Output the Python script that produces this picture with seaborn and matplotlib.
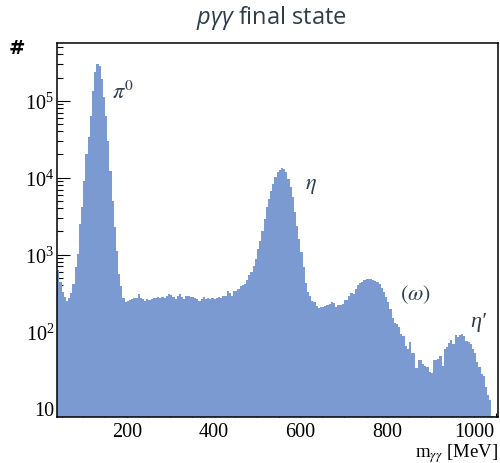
import numpy as np
import pandas as pd
import matplotlib
matplotlib.use("Agg")
import matplotlib.pyplot as plt
from matplotlib.ticker import FixedLocator, MultipleLocator, LogLocator, NullFormatter
import seaborn as sns

# Two-photon invariant mass spectrum, 5 MeV bins starting at 40 MeV
mass_start = 40
bin_width = 5
counts = [
    620, 440, 330, 280, 250, 275, 320, 410, 690, 1020,
    2500, 4150, 9000, 20300, 33700, 63000, 134000, 236000, 300000, 285000,
    191000, 112000, 63000, 30200, 12300, 5000, 2280, 1120, 560, 390,
    270, 239, 251, 258, 261, 270, 275, 310, 270, 261,
    251, 264, 258, 264, 270, 275, 277, 273, 280, 275,
    286, 303, 297, 277, 264, 291, 306, 277, 261, 286,
    291, 277, 277, 270, 261, 251, 264, 277, 261, 270,
    264, 270, 261, 275, 277, 270, 286, 291, 335, 316,
    291, 338, 335, 356, 385, 400, 415, 470, 540, 590,
    715, 873, 1180, 1510, 2040, 2900, 4110, 5270, 6760, 8260,
    10100, 11700, 12700, 13200, 12900, 11700, 9600, 7480, 5550, 3540,
    2370, 1590, 1070, 680, 430, 330, 290, 251, 239, 216,
    200, 206, 209, 216, 220, 227, 239, 234, 209, 222,
    220, 227, 258, 256, 291, 316, 306, 356, 400, 426,
    443, 470, 480, 475, 475, 465, 450, 435, 410, 362,
    322, 277, 239, 194, 150, 128, 125, 115, 92, 86,
    65, 59, 72, 53, 53, 33, 42, 43, 38, 36,
    34, 30, 29, 42, 42, 44, 48, 36, 59, 62,
    71, 78, 69, 90, 84, 90, 92, 88, 76, 73,
    68, 59, 53, 40, 34, 28, 26, 19, 15, 13,
    8,
]

# Resonance labels: text, mass [MeV], height [counts]
peak_labels = [r"$\pi^0$", r"$\eta$", r"$(\omega)$", "\u03b7\u2032"]
peak_label_x = [166, 610, 829, 990]
peak_label_y = [1.3e5, 8.0e3, 3.06e2, 1.36e2]

y_tick_values = [10, 100, 1000, 10000, 100000]
y_tick_labels = ["10", r"$\mathregular{10^{2}}$", r"$\mathregular{10^{3}}$",
                 r"$\mathregular{10^{4}}$", r"$\mathregular{10^{5}}$"]
x_tick_values = [200, 400, 600, 800, 1000]

edges = mass_start + bin_width * np.arange(len(counts) + 1)
df = pd.DataFrame({"mass": edges[:-1] + bin_width / 2, "n": counts})

sns.set_style("ticks")
plt.rcParams["font.family"] = ["Liberation Serif", "DejaVu Serif"]
plt.rcParams["mathtext.fontset"] = "custom"
plt.rcParams["mathtext.rm"] = "Open Sans"
plt.rcParams["mathtext.it"] = "Open Sans:italic"

fill = "#7b9ad1"
ink = "#2e3d48"

fig = plt.figure(figsize=(5.0, 4.64), dpi=100)
ax = fig.add_axes([0.114, 0.0998, 0.882, 0.8052])

sns.histplot(data=df, x="mass", weights="n", bins=edges.tolist(), ax=ax,
             color=fill, alpha=1.0, linewidth=0, stat="count")

ax.set_yscale("log")
ax.set_xlim(39.4, 1055)
ax.set_ylim(7.78, 5.62e5)

ax.xaxis.set_major_locator(FixedLocator(x_tick_values))
ax.xaxis.set_minor_locator(MultipleLocator(50))
ax.yaxis.set_major_locator(FixedLocator(y_tick_values))
ax.yaxis.set_minor_locator(LogLocator(base=10, subs=np.arange(2, 10)))
ax.yaxis.set_minor_formatter(NullFormatter())
ax.set_xticklabels([str(v) for v in x_tick_values])
ax.set_yticklabels(y_tick_labels)

ax.tick_params(axis="both", which="both", direction="in", colors="black",
               labelsize=14.5, top=False, right=False, width=0.8)
ax.tick_params(axis="y", which="major", length=9.5, pad=2)
ax.tick_params(axis="y", which="minor", length=4.3)
ax.tick_params(axis="x", which="major", length=7.4, pad=3.5)
ax.tick_params(axis="x", which="minor", length=3.2)
for side in ax.spines.values():
    side.set_linewidth(1.1)
    side.set_color("black")
    side.set_visible(True)

ax.set_xlabel("")
ax.set_ylabel("")

for txt, mx, my in zip(peak_labels, peak_label_x, peak_label_y):
    if txt.startswith("$"):
        ax.text(mx, my, txt, ha="left", va="center", fontsize=16,
                color=ink, math_fontfamily="stix")
    else:
        ax.text(mx, my, txt, ha="left", va="center", fontsize=16,
                color=ink, style="italic", family="Liberation Serif")

fig.text(0.542, 1 - 24 / 464, r"$p\gamma\gamma$ final state", ha="center",
         va="baseline", fontsize=17, color=ink, family="Open Sans")
fig.text(16.5 / 500, 1 - 48.5 / 464, "#", ha="center", va="center",
         fontsize=14, color="black", family="DejaVu Sans", fontweight="bold")
fig.text(0.995, 1 - 457.5 / 464, r"m$_{\gamma\gamma}$ [MeV]", ha="right",
         va="baseline", fontsize=13.5, color="black", math_fontfamily="stix")

fig.savefig("out.png", dpi=100)
